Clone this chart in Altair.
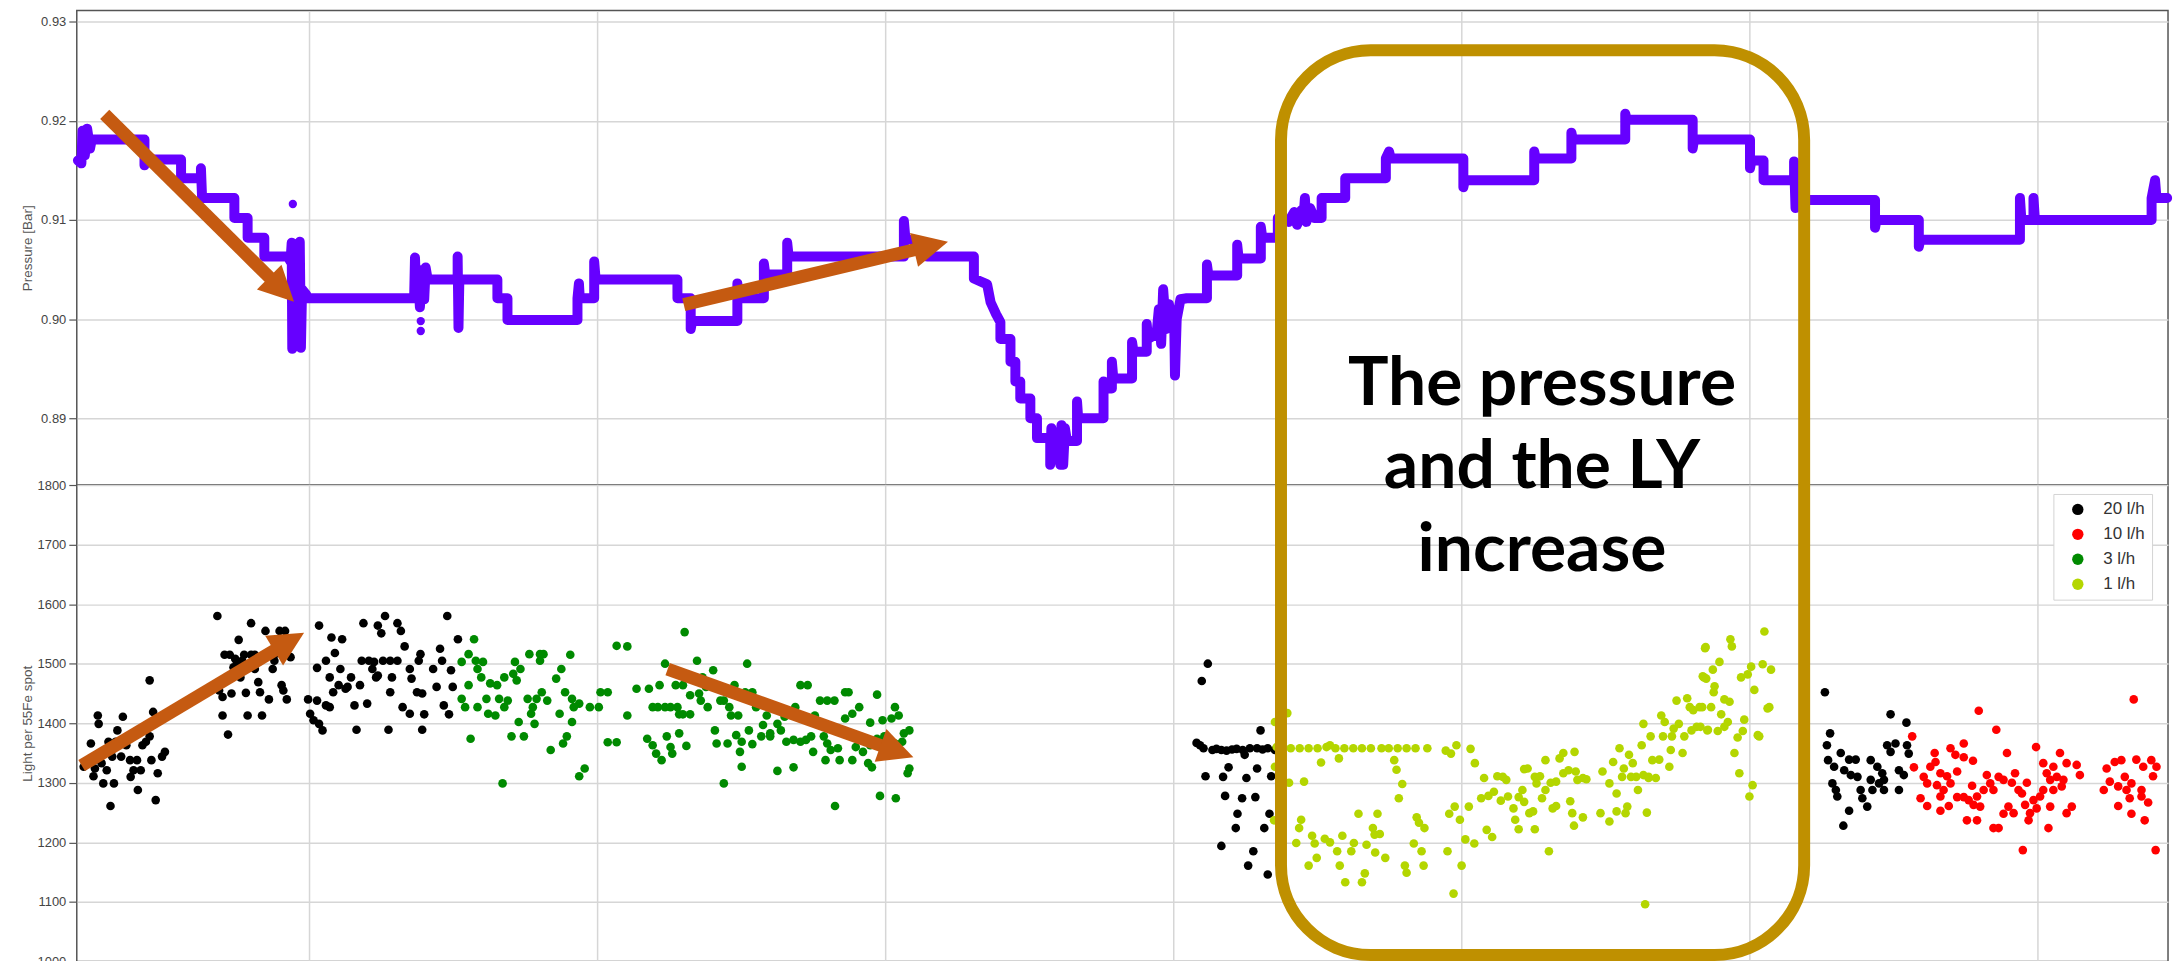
import math
import altair as alt
import pandas as pd

# ---------------- data ----------------
# x: time in days (vertical grid lines at whole days), no tick labels in the source
press_x = [0.198, 0.210, 0.214, 0.222, 0.230, 0.240, 0.246, 0.429, 0.429, 0.433, 0.556, 0.556, 0.625, 0.625, 0.629,
           0.741, 0.741, 0.787, 0.787, 0.845, 0.845, 0.926, 0.936, 0.940, 0.942, 0.946, 0.958, 0.968, 0.972, 0.976,
           0.990, 0.995, 1.365, 1.368, 1.372, 1.378, 1.385, 1.392, 1.400, 1.405, 1.412, 1.516, 1.516, 1.519, 1.522,
           1.654, 1.654, 1.689, 1.689, 1.932, 1.932, 1.937, 1.940, 1.990, 1.990, 1.995, 2.279, 2.279, 2.325, 2.325,
           2.330, 2.487, 2.487, 2.492, 2.579, 2.579, 2.584, 2.660, 2.660, 2.665, 3.065, 3.065, 3.070, 3.146, 3.146,
           3.308, 3.308, 3.354, 3.366, 3.385, 3.400, 3.400, 3.435, 3.435, 3.452, 3.452, 3.469, 3.469, 3.504, 3.504,
           3.527, 3.527, 3.573, 3.573, 3.577, 3.581, 3.605, 3.608, 3.612, 3.618, 3.624, 3.631, 3.666, 3.666, 3.670,
           3.758, 3.758, 3.762, 3.787, 3.787, 3.792, 3.857, 3.857, 3.862, 3.908, 3.908, 3.912, 3.942, 3.950, 3.958,
           3.965, 3.975, 3.985, 3.995, 4.003, 4.006, 4.012, 4.025, 4.047, 4.117, 4.117, 4.122, 4.222, 4.222, 4.227,
           4.304, 4.304, 4.309, 4.363, 4.363, 4.400, 4.420, 4.430, 4.445, 4.452, 4.457, 4.462, 4.475, 4.490, 4.515,
           4.515, 4.597, 4.597, 4.738, 4.738, 4.749, 4.755, 5.007, 5.007, 5.012, 5.253, 5.253, 5.258, 5.382, 5.382,
           5.387, 5.569, 5.569, 5.574, 5.803, 5.803, 5.808, 6.002, 6.002, 6.007, 6.049, 6.049, 6.155, 6.155, 6.160,
           6.178, 6.436, 6.436, 6.441, 6.588, 6.588, 6.593, 6.939, 6.939, 6.944, 6.986, 6.986, 6.991, 7.396, 7.396,
           7.408, 7.413, 7.450]
press_p = [0.9160, 0.9157, 0.9190, 0.9165, 0.9192, 0.9172, 0.9181, 0.9181, 0.9155, 0.9161, 0.9161, 0.9142, 0.9142, 0.9152, 0.9122,
           0.9122, 0.9102, 0.9102, 0.9082, 0.9082, 0.9063, 0.9063, 0.9058, 0.9077, 0.8970, 0.9045, 0.9040, 0.9078, 0.8971, 0.9030,
           0.9025, 0.9021, 0.9021, 0.9062, 0.9030, 0.9050, 0.9012, 0.9042, 0.9020, 0.9052, 0.9040, 0.9040, 0.9063, 0.8991, 0.9040,
           0.9040, 0.9021, 0.9021, 0.8999, 0.8999, 0.9021, 0.9036, 0.9021, 0.9021, 0.9058, 0.9040, 0.9040, 0.9021, 0.9021, 0.8990,
           0.8998, 0.8998, 0.9036, 0.9021, 0.9021, 0.9056, 0.9045, 0.9045, 0.9077, 0.9063, 0.9063, 0.9099, 0.9082, 0.9075, 0.9063,
           0.9063, 0.9041, 0.9035, 0.9017, 0.9005, 0.8997, 0.8980, 0.8980, 0.8957, 0.8957, 0.8937, 0.8937, 0.8920, 0.8920, 0.8900,
           0.8900, 0.8880, 0.8880, 0.8853, 0.8890, 0.8880, 0.8880, 0.8853, 0.8893, 0.8853, 0.8890, 0.8877, 0.8877, 0.8917, 0.8900,
           0.8900, 0.8937, 0.8930, 0.8930, 0.8957, 0.8940, 0.8940, 0.8977, 0.8967, 0.8967, 0.8995, 0.8980, 0.8985, 0.9010, 0.8975,
           0.9030, 0.8990, 0.9015, 0.8995, 0.9005, 0.8943, 0.9000, 0.9020, 0.9021, 0.9021, 0.9055, 0.9044, 0.9044, 0.9075, 0.9061,
           0.9061, 0.9093, 0.9082, 0.9082, 0.9102, 0.9098, 0.9108, 0.9095, 0.9110, 0.9102, 0.9122, 0.9098, 0.9112, 0.9102, 0.9102,
           0.9122, 0.9122, 0.9142, 0.9142, 0.9162, 0.9169, 0.9162, 0.9162, 0.9133, 0.9140, 0.9140, 0.9169, 0.9162, 0.9162, 0.9188,
           0.9181, 0.9181, 0.9207, 0.9201, 0.9201, 0.9172, 0.9181, 0.9181, 0.9152, 0.9160, 0.9160, 0.9140, 0.9140, 0.9159, 0.9112,
           0.9120, 0.9120, 0.9092, 0.9100, 0.9100, 0.9073, 0.9080, 0.9080, 0.9122, 0.9100, 0.9100, 0.9122, 0.9100, 0.9100, 0.9122,
           0.9140, 0.9122, 0.9122]
spot_x = [0.944, 1.388, 1.388]
spot_p = [0.9116, 0.8998, 0.8988]

flow20_pts = [
    (0.267, 1413), (0.270, 1399), (0.243, 1366), (0.257, 1324), (0.252, 1311), (0.286, 1299), (0.323, 1299),
    (0.311, 1261), (0.298, 1321), (0.304, 1369), (0.335, 1388), (0.354, 1411), (0.348, 1344), (0.317, 1344),
    (0.366, 1363), (0.379, 1338), (0.381, 1310), (0.391, 1321), (0.403, 1338), (0.416, 1321), (0.406, 1288),
    (0.422, 1363), (0.434, 1369), (0.447, 1378), (0.459, 1419), (0.447, 1472), (0.453, 1338), (0.475, 1316),
    (0.468, 1271), (0.490, 1344), (0.500, 1352), (0.280, 1333), (0.218, 1327), (0.329, 1369), (0.273, 1344),
    (0.682, 1580), (0.799, 1568), (0.849, 1555), (0.898, 1555), (0.917, 1555), (0.756, 1540), (0.707, 1515),
    (0.725, 1515), (0.775, 1515), (0.799, 1515), (0.812, 1515), (0.880, 1515), (0.936, 1511), (0.750, 1503),
    (0.738, 1494), (0.812, 1491), (0.880, 1505), (0.874, 1491), (0.762, 1477), (0.824, 1469), (0.905, 1464),
    (0.911, 1455), (0.688, 1455), (0.700, 1444), (0.731, 1450), (0.781, 1451), (0.830, 1452), (0.861, 1440),
    (0.923, 1440), (0.700, 1413), (0.787, 1413), (0.837, 1413), (0.719, 1381), (0.744, 1508), (0.768, 1505),
    (1.035, 1564), (1.078, 1544), (1.115, 1541), (1.189, 1568), (1.239, 1564), (1.264, 1580), (1.307, 1568),
    (1.319, 1555), (1.251, 1551), (1.332, 1529), (1.090, 1518), (1.059, 1505), (1.028, 1493), (1.109, 1491),
    (1.072, 1477), (1.146, 1477), (1.183, 1505), (1.208, 1505), (1.226, 1503), (1.257, 1505), (1.282, 1505),
    (1.307, 1505), (1.387, 1516), (1.381, 1505), (1.462, 1505), (1.480, 1580), (1.517, 1541), (1.455, 1525),
    (1.350, 1491), (1.431, 1491), (1.493, 1489), (1.134, 1461), (1.103, 1464), (1.084, 1452), (1.127, 1458),
    (1.177, 1464), (1.233, 1477), (1.220, 1491), (1.288, 1477), (1.356, 1475), (1.443, 1461), (1.499, 1461),
    (1.375, 1452), (1.393, 1450), (1.282, 1452), (0.997, 1440), (1.028, 1438), (1.059, 1430), (1.072, 1427),
    (1.158, 1430), (1.202, 1433), (1.325, 1427), (1.350, 1416), (1.400, 1415), (1.468, 1430), (1.486, 1415),
    (1.004, 1416), (1.016, 1405), (1.035, 1399), (1.047, 1388), (1.165, 1389), (1.276, 1389), (1.393, 1389),
    (1.239, 1480),
    (4.120, 1500), (4.099, 1471), (4.303, 1388), (4.081, 1367), (4.093, 1363), (4.105, 1358), (4.136, 1355),
    (4.150, 1357), (4.167, 1355), (4.185, 1354), (4.204, 1356), (4.220, 1357), (4.241, 1355), (4.266, 1358),
    (4.291, 1358), (4.310, 1356), (4.328, 1358), (4.353, 1355), (4.248, 1347), (4.192, 1326), (4.291, 1324),
    (4.112, 1311), (4.173, 1310), (4.254, 1308), (4.340, 1311), (4.180, 1278), (4.239, 1274), (4.285, 1276),
    (4.223, 1248), (4.334, 1248), (4.217, 1224), (4.316, 1224), (4.167, 1194), (4.278, 1185), (4.260, 1161),
    (4.328, 1146),
    (6.262, 1452), (6.280, 1383), (6.269, 1363), (6.317, 1350), (6.346, 1339), (6.369, 1339), (6.273, 1338),
    (6.294, 1327), (6.329, 1321), (6.352, 1313), (6.375, 1310), (6.421, 1338), (6.444, 1327), (6.461, 1316),
    (6.478, 1363), (6.507, 1366), (6.547, 1363), (6.553, 1349), (6.490, 1352), (6.519, 1321), (6.536, 1313),
    (6.421, 1305), (6.450, 1299), (6.467, 1305), (6.427, 1288), (6.467, 1288), (6.288, 1299), (6.300, 1288),
    (6.305, 1277), (6.386, 1288), (6.392, 1274), (6.409, 1260), (6.519, 1288), (6.346, 1253), (6.326, 1228),
    (6.490, 1415), (6.545, 1401),
]

flow10_pts = [
    (6.565, 1378), (6.571, 1326), (6.796, 1421), (6.857, 1389), (6.744, 1366), (6.698, 1358), (6.715, 1347),
    (6.744, 1343), (6.776, 1337), (6.643, 1350), (6.646, 1335), (6.628, 1327), (6.605, 1310), (6.617, 1299),
    (6.663, 1316), (6.686, 1311), (6.698, 1299), (6.721, 1319), (6.651, 1296), (6.674, 1288), (6.663, 1277),
    (6.594, 1274), (6.617, 1261), (6.663, 1253), (6.692, 1261), (6.721, 1276), (6.744, 1276), (6.761, 1271),
    (6.773, 1295), (6.790, 1277), (6.813, 1288), (6.824, 1313), (6.836, 1299), (6.847, 1288), (6.865, 1310),
    (6.882, 1305), (6.894, 1350), (6.911, 1300), (6.922, 1316), (6.934, 1288), (6.946, 1282), (6.963, 1300),
    (6.995, 1360), (7.020, 1333), (7.032, 1316), (7.055, 1327), (7.078, 1350), (7.101, 1333), (7.067, 1310),
    (7.044, 1305), (7.090, 1305), (7.136, 1330), (7.147, 1313), (7.020, 1288), (7.055, 1288), (7.084, 1294),
    (6.957, 1263), (6.974, 1249), (6.997, 1257), (7.009, 1277), (7.044, 1260), (6.986, 1271), (6.899, 1260),
    (6.917, 1249), (6.882, 1248), (6.801, 1260), (6.778, 1263), (6.755, 1237), (6.790, 1237), (6.847, 1224),
    (6.865, 1224), (6.969, 1237), (7.038, 1224), (7.101, 1249), (7.119, 1260), (6.949, 1187), (7.240, 1324),
    (7.268, 1335), (7.291, 1338), (7.230, 1288), (7.251, 1302), (7.280, 1294), (7.309, 1288), (7.303, 1310),
    (7.326, 1299), (7.343, 1339), (7.367, 1327), (7.395, 1338), (7.413, 1327), (7.401, 1311), (7.361, 1288),
    (7.320, 1274), (7.280, 1261), (7.326, 1248), (7.372, 1237), (7.384, 1267), (7.361, 1277), (7.334, 1440),
    (7.410, 1187),
]

flow3_pts = [
    (1.573, 1541), (1.554, 1516), (1.579, 1505), (1.604, 1503), (1.530, 1503), (1.585, 1491), (1.598, 1477),
    (1.629, 1467), (1.653, 1464), (1.554, 1464), (1.678, 1477), (1.715, 1503), (1.734, 1491), (1.709, 1483),
    (1.721, 1472), (1.765, 1516), (1.802, 1516), (1.814, 1516), (1.802, 1505), (1.907, 1515), (1.876, 1491),
    (1.858, 1475), (1.530, 1441), (1.542, 1427), (1.585, 1427), (1.616, 1441), (1.622, 1416), (1.647, 1413),
    (1.660, 1441), (1.678, 1427), (1.690, 1438), (1.728, 1402), (1.759, 1441), (1.777, 1427), (1.771, 1416),
    (1.790, 1441), (1.808, 1452), (1.827, 1438), (1.783, 1399), (1.870, 1416), (1.889, 1452), (1.913, 1441),
    (1.919, 1427), (1.938, 1433), (1.975, 1427), (2.006, 1427), (2.012, 1452), (2.037, 1452), (1.913, 1402),
    (1.561, 1374), (1.703, 1378), (1.746, 1378), (1.895, 1378), (1.882, 1366), (1.839, 1355), (1.957, 1324),
    (1.938, 1311), (1.672, 1299), (2.068, 1530), (2.105, 1529), (2.037, 1368), (2.068, 1368), (2.105, 1413),
    (2.304, 1553), (2.236, 1500), (2.347, 1505), (2.521, 1500), (2.403, 1489), (2.137, 1458), (2.180, 1458),
    (2.217, 1464), (2.273, 1464), (2.298, 1464), (2.366, 1477), (2.378, 1461), (2.477, 1464), (2.514, 1452),
    (2.539, 1452), (2.354, 1450), (2.323, 1447), (2.193, 1427), (2.211, 1427), (2.236, 1427), (2.279, 1427),
    (2.298, 1415), (2.323, 1415), (2.360, 1438), (2.384, 1427), (2.428, 1438), (2.440, 1438), (2.459, 1427),
    (2.465, 1413), (2.490, 1413), (2.552, 1427), (2.589, 1413), (2.576, 1397), (2.601, 1383), (2.626, 1399),
    (2.638, 1388), (2.651, 1411), (2.688, 1427), (2.706, 1464), (2.731, 1464), (2.774, 1438), (2.799, 1438),
    (2.824, 1438), (2.861, 1452), (2.873, 1452), (2.910, 1427), (2.886, 1416), (2.861, 1408), (2.756, 1413),
    (2.174, 1374), (2.193, 1363), (2.205, 1349), (2.224, 1338), (2.242, 1378), (2.255, 1360), (2.261, 1349),
    (2.285, 1383), (2.310, 1362), (2.409, 1388), (2.415, 1366), (2.453, 1366), (2.483, 1380), (2.502, 1369),
    (2.496, 1352), (2.539, 1365), (2.570, 1378), (2.601, 1378), (2.527, 1388), (2.657, 1369), (2.682, 1372),
    (2.706, 1369), (2.725, 1372), (2.743, 1378), (2.750, 1352), (2.787, 1378), (2.799, 1366), (2.811, 1355),
    (2.836, 1358), (2.793, 1338), (2.842, 1338), (2.886, 1338), (2.898, 1360), (2.923, 1352), (2.948, 1363),
    (2.972, 1374), (2.997, 1378), (2.948, 1401), (2.972, 1448), (2.991, 1405), (3.022, 1408), (3.034, 1427),
    (3.047, 1413), (3.065, 1383), (3.084, 1388), (3.059, 1369), (3.034, 1366), (3.084, 1324), (3.078, 1316),
    (2.941, 1333), (2.954, 1326), (2.502, 1327), (2.626, 1320), (2.682, 1326), (2.440, 1299), (2.826, 1261),
    (2.982, 1278), (3.037, 1274), (2.285, 1415), (2.255, 1427),
]

flow1_pts = [
    (4.353, 1402), (4.396, 1417), (4.359, 1360), (4.408, 1358), (4.439, 1358), (4.470, 1358), (4.501, 1358),
    (4.532, 1360), (4.544, 1363), (4.563, 1358), (4.594, 1358), (4.625, 1358), (4.655, 1358), (4.686, 1358),
    (4.723, 1358), (4.748, 1358), (4.779, 1358), (4.810, 1358), (4.841, 1358), (4.882, 1358), (4.946, 1354),
    (4.964, 1349), (4.983, 1363), (5.032, 1357),
    (4.513, 1334), (4.575, 1341), (4.767, 1338), (4.775, 1322), (4.795, 1298), (4.783, 1274), (4.353, 1327),
    (4.402, 1300), (4.454, 1302), (4.350, 1237), (4.444, 1238), (4.437, 1224), (4.482, 1211), (4.427, 1199),
    (4.491, 1198), (4.526, 1206), (4.544, 1200), (4.569, 1185), (4.587, 1211), (4.627, 1199), (4.618, 1185),
    (4.671, 1196), (4.643, 1248), (4.709, 1248), (4.693, 1224), (4.699, 1213), (4.717, 1214), (4.701, 1183),
    (4.736, 1174), (4.498, 1174), (4.470, 1161), (4.578, 1161), (4.597, 1133), (4.655, 1133), (4.665, 1148),
    (4.804, 1161), (4.810, 1149), (4.835, 1198), (4.845, 1242), (4.853, 1233), (4.872, 1224), (4.862, 1185),
    (4.869, 1161), (4.952, 1185), (4.973, 1114), (5.001, 1161), (4.995, 1238), (4.958, 1248), (4.977, 1260),
    (5.014, 1205), (5.045, 1198), (5.026, 1260), (5.047, 1333), (5.079, 1308), (5.125, 1311), (5.156, 1305),
    (5.144, 1310), (5.088, 1221), (5.107, 1209), (5.069, 1274), (5.094, 1278), (5.113, 1285), (5.137, 1270),
    (5.162, 1277), (5.199, 1276), (5.212, 1288), (5.181, 1257), (5.218, 1268), (5.236, 1249), (5.249, 1252),
    (5.255, 1222), (5.199, 1222), (5.187, 1238), (5.230, 1324), (5.218, 1323), (5.255, 1310), (5.273, 1311),
    (5.292, 1338), (5.304, 1185), (5.261, 1299), (5.292, 1288), (5.310, 1300), (5.329, 1302), (5.354, 1316),
    (5.341, 1341), (5.354, 1350), (5.393, 1352), (5.372, 1321), (5.403, 1305), (5.422, 1308), (5.434, 1306),
    (5.397, 1319), (5.378, 1269), (5.385, 1249), (5.422, 1242), (5.391, 1228), (5.317, 1257), (5.329, 1261),
    (5.280, 1274), (5.490, 1319), (5.514, 1299), (5.527, 1335), (5.549, 1358), (5.564, 1324), (5.582, 1347),
    (5.595, 1333), (5.607, 1310), (5.632, 1313), (5.650, 1308), (5.675, 1308), (5.663, 1338), (5.687, 1339),
    (5.626, 1363), (5.657, 1378), (5.700, 1378), (5.731, 1378), (5.722, 1327), (5.727, 1355), (5.768, 1350),
    (5.737, 1391), (5.755, 1399), (5.774, 1378), (5.799, 1388), (5.817, 1394), (5.830, 1394), (5.854, 1388),
    (5.694, 1413), (5.706, 1402), (5.632, 1399), (5.747, 1438), (5.784, 1442), (5.793, 1427), (5.805, 1422),
    (5.836, 1427), (5.842, 1477), (5.848, 1528), (5.483, 1249), (5.514, 1235), (5.539, 1252), (5.570, 1249),
    (5.576, 1260), (5.539, 1282), (5.613, 1288), (5.644, 1250), (5.638, 1096), (5.558, 1310), (5.589, 1310),
    (5.650, 1310),
    (5.846, 1526), (5.934, 1541), (5.939, 1529), (5.896, 1503), (5.873, 1490), (5.838, 1479), (5.850, 1475),
    (5.879, 1462), (5.876, 1452), (5.913, 1440), (5.931, 1436), (6.017, 1456), (6.006, 1495), (6.046, 1499),
    (6.075, 1490), (5.971, 1477), (5.994, 1482), (6.052, 1554), (5.827, 1427), (5.867, 1427), (5.902, 1415),
    (5.925, 1402), (5.856, 1389), (5.890, 1387), (5.913, 1394), (5.982, 1406), (5.977, 1387), (5.959, 1376),
    (6.029, 1380), (6.034, 1378), (6.063, 1425), (6.069, 1427), (5.948, 1350), (5.965, 1316), (6.011, 1296),
    (6.000, 1277),
]

flow_names = ["20 l/h", "10 l/h", "3 l/h", "1 l/h"]
flow_colors = ["#000000", "#ff0000", "#008a00", "#b4d600"]

# annotation arrows (start -> tip), in data units of their panel
arrow_top_x0 = [0.291, 2.301]
arrow_top_y0 = [0.92065, 0.90146]
arrow_top_x1 = [0.948, 3.218]
arrow_top_y1 = [0.90176, 0.90779]
arrow_bot_x0 = [0.211, 2.245]
arrow_bot_y0 = [1329, 1491]
arrow_bot_x1 = [0.983, 3.098]
arrow_bot_y1 = [1552, 1343]

box_x = [4.374, 6.190]
box_ly = [1011, 2530]
note_lines = ["The pressure", "and the LY", "increase"]
note_x = [5.28, 5.28, 5.28]
note_ly = [1934, 1795, 1656]

# ---------------- layout ----------------
X_DOMAIN = [0.194, 7.453]
P_DOMAIN = [0.88327, 0.93111]
LY_DOMAIN = [1000, 1800]
W = 2098
H_TOP = 476
H_BOT = 478
ORANGE = "#C55A11"
GOLD = "#BF9000"
PURPLE = "#6600ff"
HEAD = 35.0  # arrow head size in px

kx = W / (X_DOMAIN[1] - X_DOMAIN[0])
ky_top = H_TOP / (P_DOMAIN[1] - P_DOMAIN[0])
ky_bot = H_BOT / (LY_DOMAIN[1] - LY_DOMAIN[0])


def arrow_frames(x0s, y0s, x1s, y1s, ky):
    shafts, heads = [], []
    for x0, y0, x1, y1 in zip(x0s, y0s, x1s, y1s):
        dxp = (x1 - x0) * kx
        dyp = -(y1 - y0) * ky
        L = math.hypot(dxp, dyp)
        ux, uy = dxp / L, dyp / L
        ang = math.degrees(math.atan2(uy, ux)) % 360
        sx = x1 - (HEAD * 0.8) * ux / kx
        sy = y1 + (HEAD * 0.8) * uy / ky
        hx = x1 - (HEAD / 2) * ux / kx
        hy = y1 + (HEAD / 2) * uy / ky
        shafts.append({"x0": x0, "y0": y0, "x1": sx, "y1": sy})
        heads.append({"hx": hx, "hy": hy, "ang": ang})
    return pd.DataFrame(shafts), pd.DataFrame(heads)


press_df = pd.DataFrame({"x": press_x, "p": press_p, "i": range(len(press_x))})
spot_df = pd.DataFrame({"x": spot_x, "p": spot_p})
rows = []
for name, pts in zip(flow_names, [flow20_pts, flow10_pts, flow3_pts, flow1_pts]):
    for x, ly in pts:
        rows.append({"x": x, "ly": ly, "flow": name})
ly_df = pd.DataFrame(rows)
box_df = pd.DataFrame({"x0": [box_x[0]], "x1": [box_x[1]], "y0": [box_ly[0]], "y1": [box_ly[1]]})
note_df = pd.DataFrame({"x": note_x, "ly": note_ly, "t": note_lines})
top_shaft, top_head = arrow_frames(arrow_top_x0, arrow_top_y0, arrow_top_x1, arrow_top_y1, ky_top)
bot_shaft, bot_head = arrow_frames(arrow_bot_x0, arrow_bot_y0, arrow_bot_x1, arrow_bot_y1, ky_bot)

xscale = alt.Scale(domain=X_DOMAIN, nice=False, zero=False)
xaxis = alt.Axis(values=[1, 2, 3, 4, 5, 6, 7], labels=False, ticks=False, domain=False, title=None,
                 grid=True, gridColor="#d6d6d6", gridWidth=1.5, minExtent=0, maxExtent=0)
pscale = alt.Scale(domain=P_DOMAIN, nice=False, zero=False)
paxis = alt.Axis(values=[0.89, 0.90, 0.91, 0.92, 0.93], format=".2f", title="Pressure [Bar]")
lyscale = alt.Scale(domain=LY_DOMAIN, nice=False, zero=False)
lyaxis = alt.Axis(values=[1000, 1100, 1200, 1300, 1400, 1500, 1600, 1700, 1800], format="d",
                  title="Light per 55Fe spot")

ARROW_PATH = "M1,0L-1,-1L-1,1Z"

# ---------------- top panel ----------------
p_line = alt.Chart(press_df).mark_line(color=PURPLE, strokeWidth=10, strokeJoin="round", strokeCap="round").encode(
    x=alt.X("x:Q", scale=xscale, axis=xaxis),
    y=alt.Y("p:Q", scale=pscale, axis=paxis),
    order="i:Q",
)
p_spots = alt.Chart(spot_df).mark_circle(color=PURPLE, size=70, opacity=1).encode(
    x=alt.X("x:Q", scale=xscale, axis=xaxis),
    y=alt.Y("p:Q", scale=pscale, axis=paxis),
)
t_shaft = alt.Chart(top_shaft).mark_rule(color=ORANGE, strokeWidth=13).encode(
    x=alt.X("x0:Q", scale=xscale, axis=xaxis), y=alt.Y("y0:Q", scale=pscale, axis=paxis),
    x2="x1:Q", y2="y1:Q",
)
t_head = alt.Chart(top_head).mark_point(shape=ARROW_PATH, filled=True, size=HEAD * HEAD, color=ORANGE,
                                        opacity=1, strokeWidth=0).encode(
    x=alt.X("hx:Q", scale=xscale, axis=xaxis), y=alt.Y("hy:Q", scale=pscale, axis=paxis),
    angle=alt.Angle("ang:Q", scale=None),
)
top = alt.layer(p_line, p_spots, t_shaft, t_head).properties(width=W, height=H_TOP)

# ---------------- bottom panel ----------------
pts = alt.Chart(ly_df).mark_circle(size=75, opacity=1).encode(
    x=alt.X("x:Q", scale=xscale, axis=xaxis),
    y=alt.Y("ly:Q", scale=lyscale, axis=lyaxis),
    color=alt.Color("flow:N", scale=alt.Scale(domain=flow_names, range=flow_colors),
                    legend=alt.Legend(title=None, orient="none", legendX=1983, legendY=9,
                                      fillColor="white", strokeColor="#d4d4d4", padding=7,
                                      symbolType="circle", symbolSize=130, symbolStrokeWidth=0,
                                      symbolOffset=9,
                                      labelFont="Liberation Sans", labelFontSize=17, labelColor="#333",
                                      labelLimit=200, rowPadding=7, labelOffset=17)),
)
box = alt.Chart(box_df).mark_rect(fillOpacity=0, stroke=GOLD, strokeWidth=12, cornerRadius=90).encode(
    x=alt.X("x0:Q", scale=xscale, axis=xaxis), x2="x1:Q",
    y=alt.Y("y0:Q", scale=lyscale, axis=lyaxis), y2="y1:Q",
)
note = alt.Chart(note_df).mark_text(font="Lato", fontWeight="bold", fontSize=68, color="black",
                                    align="center", baseline="alphabetic").encode(
    x=alt.X("x:Q", scale=xscale, axis=xaxis),
    y=alt.Y("ly:Q", scale=lyscale, axis=lyaxis),
    text="t:N",
)
b_shaft = alt.Chart(bot_shaft).mark_rule(color=ORANGE, strokeWidth=13).encode(
    x=alt.X("x0:Q", scale=xscale, axis=xaxis), y=alt.Y("y0:Q", scale=lyscale, axis=lyaxis),
    x2="x1:Q", y2="y1:Q",
)
b_head = alt.Chart(bot_head).mark_point(shape=ARROW_PATH, filled=True, size=HEAD * HEAD, color=ORANGE,
                                        opacity=1, strokeWidth=0).encode(
    x=alt.X("hx:Q", scale=xscale, axis=xaxis), y=alt.Y("hy:Q", scale=lyscale, axis=lyaxis),
    angle=alt.Angle("ang:Q", scale=None),
)
bottom = alt.layer(pts, box, note, b_shaft, b_head).properties(width=W, height=H_BOT)

chart = alt.vconcat(top, bottom, spacing=0, bounds="flush").resolve_scale(color="independent").properties(
    padding={"left": 12, "top": 0, "right": 0, "bottom": 0}
).configure_view(stroke="#555555", strokeWidth=1.5).configure_axisY(
    labelFont="Liberation Sans", labelFontSize=13, labelColor="#444444", labelPadding=3,
    tickColor="#555555", tickSize=8, tickWidth=1.2, domain=False,
    grid=True, gridColor="#d6d6d6", gridWidth=1.5,
    titleFont="Liberation Sans", titleFontSize=13.5, titleFontWeight="normal", titleColor="#555555",
    titlePadding=6, minExtent=36, maxExtent=36,
)

chart.save("out.html", embed_options={"renderer": "svg", "actions": False})
